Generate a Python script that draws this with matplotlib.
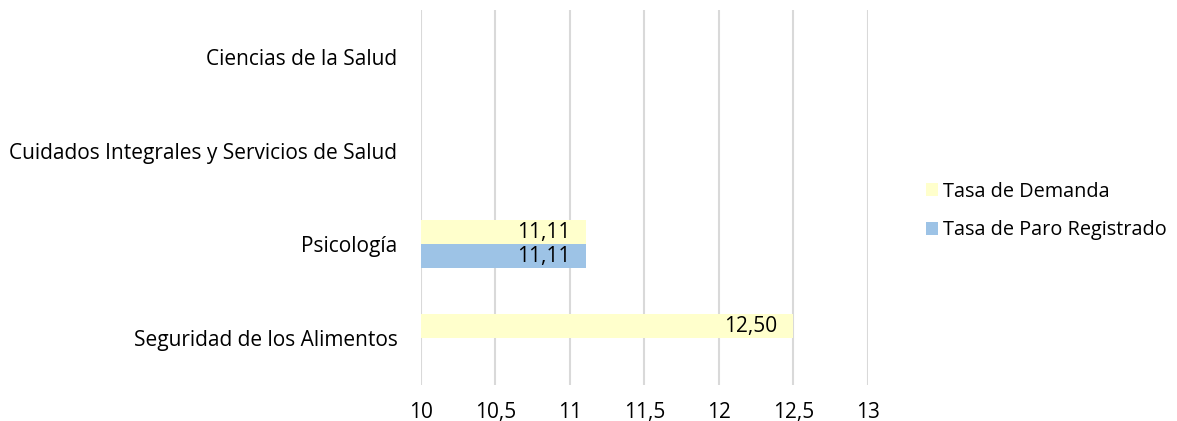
import matplotlib.pyplot as plt
import numpy as np

plt.rcParams['font.family'] = ['Open Sans', 'DejaVu Sans']

categories = ['Seguridad de los Alimentos', 'Psicología',
              'Cuidados Integrales y Servicios de Salud', 'Ciencias de la Salud']
tasa_demanda = [12.50, 11.11, np.nan, np.nan]
tasa_paro = [np.nan, 11.11, np.nan, np.nan]
x_ticks = [10, 10.5, 11, 11.5, 12, 12.5, 13]

yellow = '#FFFFCC'
blue = '#9DC3E6'
fs = 15

fig = plt.figure(figsize=(11.77, 4.21), dpi=100)
ax = fig.add_axes([421 / 1177, 1 - 385 / 421, (868 - 421) / 1177, 375 / 421])

y = np.arange(len(categories))
h = 0.256
base = 10
dem = np.array(tasa_demanda)
par = np.array(tasa_paro)
b1 = ax.barh(y + h / 2, dem - base, left=base, height=h, color=yellow, label='Tasa de Demanda', zorder=2)
b2 = ax.barh(y - h / 2, par - base, left=base, height=h, color=blue, label='Tasa de Paro Registrado', zorder=2)

for vals, off in [(dem, h / 2), (par, -h / 2)]:
    for yi, v in zip(y, vals):
        if not np.isnan(v):
            ax.text(v - 0.11, yi + off, f'{v:.2f}'.replace('.', ','), ha='right', va='center',
                    fontsize=fs, color='#000000', zorder=3)

ax.set_xlim(10, 13)
ax.set_ylim(-0.5, 3.5)
ax.set_xticks(x_ticks)
ax.set_xticklabels([str(t).replace('.', ',') for t in x_ticks], fontsize=fs)
ax.set_yticks(y)
ax.set_yticklabels(categories, fontsize=fs)
ax.tick_params(axis='both', length=0)
ax.tick_params(axis='x', pad=12)
ax.tick_params(axis='y', pad=17)
ax.grid(axis='x', color='#D9D9D9', linewidth=1.5, zorder=0)
ax.set_axisbelow(True)
for s in ax.spines.values():
    s.set_visible(False)

fig.legend(handles=[b1, b2], loc='center left', bbox_to_anchor=(908 / 1177, 1 - 211 / 421),
           frameon=False, fontsize=14.3, handlelength=0.62, handleheight=0.62,
           handletextpad=0.22, labelspacing=0.95)

fig.savefig('out.png', dpi=100)
